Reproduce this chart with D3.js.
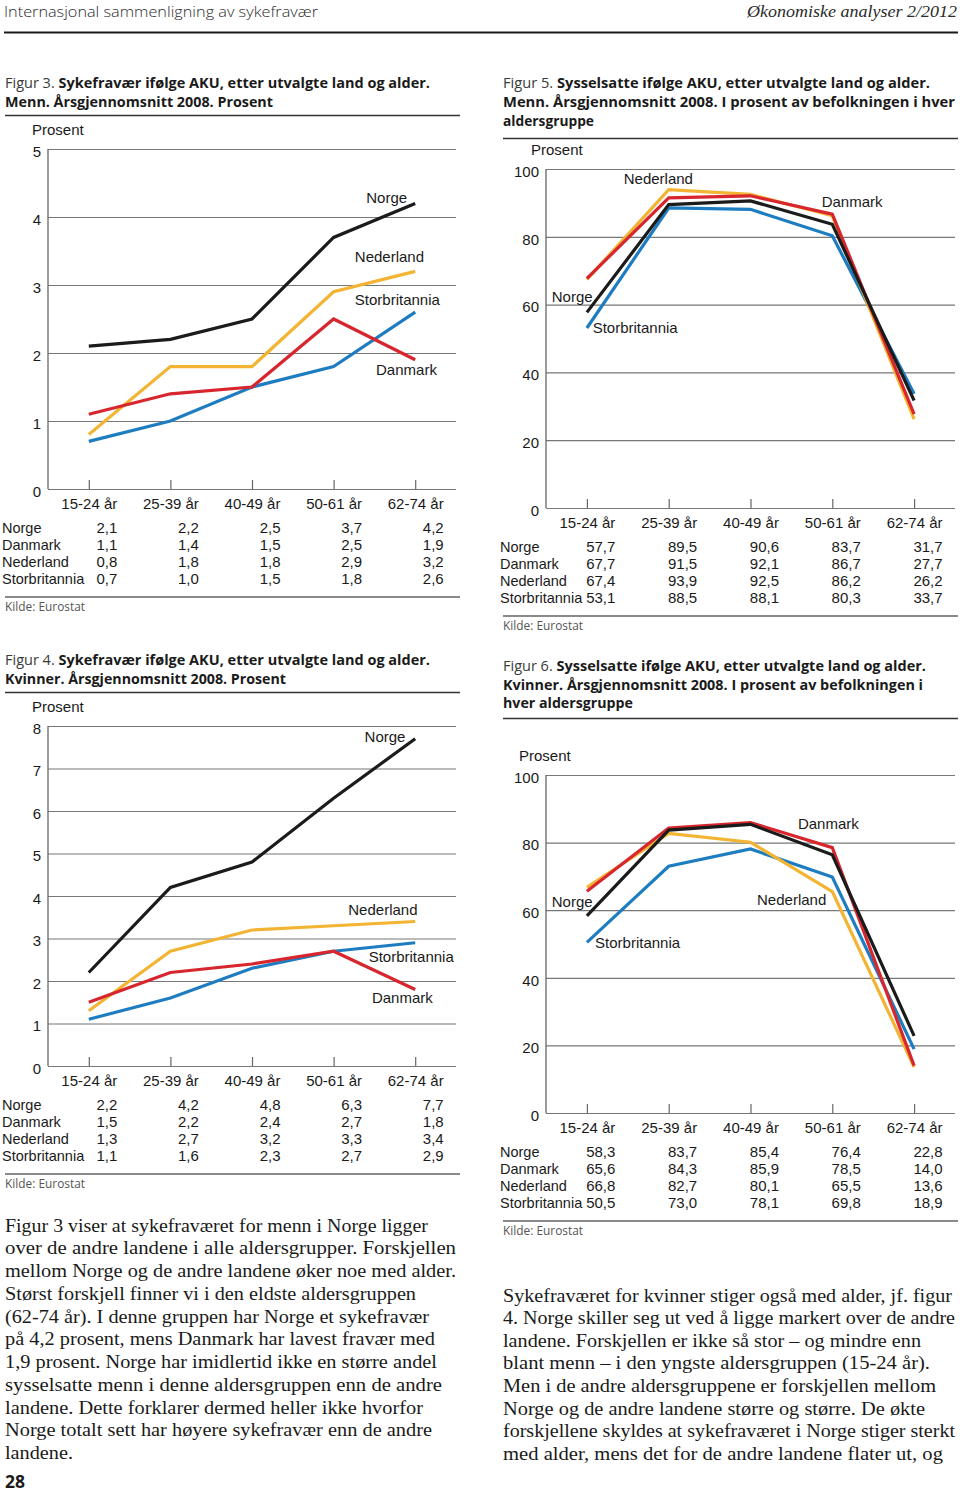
<!DOCTYPE html>
<html><head><meta charset="utf-8">
<script src="https://cdn.jsdelivr.net/npm/d3@7"></script>
<style>
html,body{margin:0;padding:0;background:#fff;}
svg{display:block;}
</style></head><body>
<svg id="page" width="960" height="1493"></svg>
<script>
// ---------- DATA ----------
const ageGroups = ["15-24 år", "25-39 år", "40-49 år", "50-61 år", "62-74 år"];
const countries = ["Norge", "Danmark", "Nederland", "Storbritannia"];

// Figur 3: sykefravær menn (prosent)
const sickMenNorge = [2.1, 2.2, 2.5, 3.7, 4.2];
const sickMenDanmark = [1.1, 1.4, 1.5, 2.5, 1.9];
const sickMenNederland = [0.8, 1.8, 1.8, 2.9, 3.2];
const sickMenStorbritannia = [0.7, 1.0, 1.5, 1.8, 2.6];

// Figur 4: sykefravær kvinner (prosent)
const sickWomenNorge = [2.2, 4.2, 4.8, 6.3, 7.7];
const sickWomenDanmark = [1.5, 2.2, 2.4, 2.7, 1.8];
const sickWomenNederland = [1.3, 2.7, 3.2, 3.3, 3.4];
const sickWomenStorbritannia = [1.1, 1.6, 2.3, 2.7, 2.9];

// Figur 5: sysselsatte menn (prosent av befolkningen)
const empMenNorge = [57.7, 89.5, 90.6, 83.7, 31.7];
const empMenDanmark = [67.7, 91.5, 92.1, 86.7, 27.7];
const empMenNederland = [67.4, 93.9, 92.5, 86.2, 26.2];
const empMenStorbritannia = [53.1, 88.5, 88.1, 80.3, 33.7];

// Figur 6: sysselsatte kvinner (prosent av befolkningen)
const empWomenNorge = [58.3, 83.7, 85.4, 76.4, 22.8];
const empWomenDanmark = [65.6, 84.3, 85.9, 78.5, 14.0];
const empWomenNederland = [66.8, 82.7, 80.1, 65.5, 13.6];
const empWomenStorbritannia = [50.5, 73.0, 78.1, 69.8, 18.9];

// Tick labels
const sickMenTicks = [0, 1, 2, 3, 4, 5];
const sickWomenTicks = [0, 1, 2, 3, 4, 5, 6, 7, 8];
const empTicks = [0, 20, 40, 60, 80, 100];

// ---------- STYLE ----------
const seriesColor = {Norge: "#1b1b1b", Danmark: "#d7262e", Nederland: "#f2b432", Storbritannia: "#1e7dc1"};
const drawOrder = ["Storbritannia", "Nederland", "Danmark", "Norge"];
const SANS = "'Liberation Sans', Arial, Helvetica, sans-serif";
const HUM = "'Open Sans', 'Noto Sans', sans-serif";
const SERIF = "'Liberation Serif', 'Times New Roman', serif";
const fmt = v => d3.format(".1f")(v).replace(".", ",");

const svg = d3.select("#page");

// ---------- PAGE HEADER ----------
svg.append("text").attr("x", 4).attr("y", 16.5)
  .attr("font-family", HUM).attr("font-weight", 300).attr("font-size", 14.5).attr("fill", "#2a2a2a")
  .attr("textLength", 314).attr("lengthAdjust", "spacingAndGlyphs")
  .text("Internasjonal sammenligning av sykefravær");
svg.append("text").attr("x", 957).attr("y", 16.5).attr("text-anchor", "end")
  .attr("font-family", SERIF).attr("font-style", "italic").attr("font-size", 17).attr("fill", "#2a2a2a")
  .attr("textLength", 210).attr("lengthAdjust", "spacingAndGlyphs")
  .text("Økonomiske analyser 2/2012");
svg.append("line").attr("x1", 4).attr("x2", 958).attr("y1", 32.5).attr("y2", 32.5)
  .attr("stroke", "#1a1a1a").attr("stroke-width", 2.2);

// ---------- TITLES ----------
function title(x, lines, ruleY) {
  lines.forEach((ln, i) => {
    const t = svg.append("text").attr("x", x).attr("y", ln.y)
      .attr("font-family", HUM).attr("font-size", 13.8).attr("fill", "#1a1a1a")
      .attr("textLength", ln.w).attr("lengthAdjust", "spacingAndGlyphs");
    if (ln.light) t.append("tspan").attr("font-weight", 400).attr("fill", "#3a3a3a").text(ln.light + " ");
    t.append("tspan").attr("font-weight", 700).text(ln.bold);
  });
  svg.append("line").attr("x1", x).attr("x2", x + 455).attr("y1", ruleY).attr("y2", ruleY)
    .attr("stroke", "#333").attr("stroke-width", 1.5);
}

title(5, [
  {y: 88, w: 425, light: "Figur 3.", bold: "Sykefravær ifølge AKU, etter utvalgte land og alder."},
  {y: 107, w: 268, bold: "Menn. Årsgjennomsnitt 2008. Prosent"}
], 115.5);
title(503, [
  {y: 88, w: 427, light: "Figur 5.", bold: "Sysselsatte ifølge AKU, etter utvalgte land og alder."},
  {y: 107, w: 452, bold: "Menn. Årsgjennomsnitt 2008. I prosent av befolkningen i hver"},
  {y: 126, w: 91, bold: "aldersgruppe"}
], 138.5);
title(5, [
  {y: 665, w: 425, light: "Figur 4.", bold: "Sykefravær ifølge AKU, etter utvalgte land og alder."},
  {y: 684, w: 281, bold: "Kvinner. Årsgjennomsnitt 2008. Prosent"}
], 692.5);
title(503, [
  {y: 671, w: 423, light: "Figur 6.", bold: "Sysselsatte ifølge AKU, etter utvalgte land og alder."},
  {y: 689.5, w: 420, bold: "Kvinner. Årsgjennomsnitt 2008. I prosent av befolkningen i"},
  {y: 708, w: 130, bold: "hver aldersgruppe"}
], 718.5);

// ---------- CHART ----------
function drawChart(o) {
  const g = svg.append("g");
  const x = d3.scalePoint().domain(ageGroups).range([o.left, o.right]).padding(0.5);
  const y = d3.scaleLinear().domain([0, o.max]).range([o.bottom, o.top]);

  // grid + y labels
  const ay = g.append("g").attr("transform", `translate(${o.left},0)`)
    .call(d3.axisLeft(y).tickValues(o.ticks).tickSize(-(o.right - o.left)).tickPadding(7).tickFormat(d => d));
  ay.select(".domain").remove();
  ay.selectAll(".tick line").attr("stroke", "#777").attr("stroke-width", 1.2);
  ay.selectAll(".tick text").attr("font-family", SANS).attr("font-size", 15).attr("fill", "#1a1a1a")
    .attr("y", 2).attr("dy", "0.35em");

  // left axis line
  g.append("line").attr("x1", o.left).attr("x2", o.left).attr("y1", y(o.max)).attr("y2", y(0))
    .attr("stroke", "#666").attr("stroke-width", 1.3);

  // bottom ticks (inward)
  const ax = g.append("g").attr("transform", `translate(0,${o.bottom})`)
    .call(d3.axisBottom(x).tickSize(-9).tickFormat(d => d));
  ax.select(".domain").remove();
  ax.selectAll(".tick line").attr("stroke", "#666").attr("stroke-width", 1.2);
  ax.selectAll(".tick text").attr("font-family", SANS).attr("font-size", 15).attr("fill", "#1a1a1a")
    .attr("y", 14.5).attr("dy", "0.35em");

  // "Prosent"
  g.append("text").attr("x", o.prosentX).attr("y", y(o.max) - 19.5).attr("dy", "0.35em")
    .attr("font-family", SANS).attr("font-size", 15).attr("fill", "#1a1a1a").text("Prosent");

  // series lines
  const line = d3.line().x((d, i) => x(ageGroups[i])).y(d => y(d));
  drawOrder.forEach(c => {
    g.append("path").datum(o.series[c]).attr("d", line)
      .attr("fill", "none").attr("stroke", seriesColor[c]).attr("stroke-width", 3.2)
      .attr("stroke-linejoin", "miter");
  });

  // series labels
  const x0 = x(ageGroups[0]), step = x.step();
  o.labels.forEach(l => {
    g.append("text").attr("x", x0 + l.xi * step).attr("y", y(l.v)).attr("dy", "0.35em")
      .attr("font-family", SANS).attr("font-size", 15).attr("fill", "#1a1a1a").text(l.name);
  });

  // table
  countries.forEach((c, i) => {
    const ty = o.bottom + 38.5 + 17 * i;
    g.append("text").attr("x", o.tableX).attr("y", ty).attr("dy", "0.35em")
      .attr("font-family", SANS).attr("font-size", 14.5).attr("fill", "#1a1a1a").text(c);
    o.series[c].forEach((v, j) => {
      g.append("text").attr("x", x(ageGroups[j]) + 28.5).attr("y", ty).attr("dy", "0.35em")
        .attr("text-anchor", "end").attr("font-family", SANS).attr("font-size", 15).attr("fill", "#1a1a1a")
        .text(fmt(v));
    });
  });

  // rule + source
  g.append("line").attr("x1", o.ruleX).attr("x2", o.ruleX + 455)
    .attr("y1", o.bottom + 108).attr("y2", o.bottom + 108)
    .attr("stroke", "#8a8a8a").attr("stroke-width", 2);
  g.append("text").attr("x", o.ruleX).attr("y", o.bottom + 122)
    .attr("font-family", HUM).attr("font-size", 12).attr("fill", "#555")
    .attr("textLength", 80).attr("lengthAdjust", "spacingAndGlyphs").text("Kilde: Eurostat");
}

drawChart({
  left: 48, right: 456, top: 149, bottom: 489, max: 5, ticks: sickMenTicks,
  series: {Norge: sickMenNorge, Danmark: sickMenDanmark, Nederland: sickMenNederland, Storbritannia: sickMenStorbritannia},
  labels: [
    {name: "Norge", xi: 3.40, v: 4.28},
    {name: "Nederland", xi: 3.26, v: 3.41},
    {name: "Storbritannia", xi: 3.26, v: 2.78},
    {name: "Danmark", xi: 3.52, v: 1.75}
  ],
  prosentX: 32, tableX: 2, ruleX: 5
});

drawChart({
  left: 546, right: 955, top: 169, bottom: 508, max: 100, ticks: empTicks,
  series: {Norge: empMenNorge, Danmark: empMenDanmark, Nederland: empMenNederland, Storbritannia: empMenStorbritannia},
  labels: [
    {name: "Nederland", xi: 0.45, v: 97.1},
    {name: "Danmark", xi: 2.87, v: 90.3},
    {name: "Norge", xi: -0.43, v: 62.2},
    {name: "Storbritannia", xi: 0.07, v: 53.1}
  ],
  prosentX: 531, tableX: 500, ruleX: 503
});

drawChart({
  left: 48, right: 456, top: 726, bottom: 1066, max: 8, ticks: sickWomenTicks,
  series: {Norge: sickWomenNorge, Danmark: sickWomenDanmark, Nederland: sickWomenNederland, Storbritannia: sickWomenStorbritannia},
  labels: [
    {name: "Norge", xi: 3.38, v: 7.74},
    {name: "Nederland", xi: 3.18, v: 3.67},
    {name: "Storbritannia", xi: 3.43, v: 2.56},
    {name: "Danmark", xi: 3.47, v: 1.60}
  ],
  prosentX: 32, tableX: 2, ruleX: 5
});

drawChart({
  left: 546, right: 955, top: 775, bottom: 1113, max: 100, ticks: empTicks,
  series: {Norge: empWomenNorge, Danmark: empWomenDanmark, Nederland: empWomenNederland, Storbritannia: empWomenStorbritannia},
  labels: [
    {name: "Danmark", xi: 2.58, v: 85.5},
    {name: "Nederland", xi: 2.08, v: 63.0},
    {name: "Norge", xi: -0.43, v: 62.4},
    {name: "Storbritannia", xi: 0.10, v: 50.3}
  ],
  prosentX: 519, tableX: 500, ruleX: 503
});

// ---------- BODY TEXT ----------
const leftText = [
  ["Figur 3 viser at sykefraværet for menn i Norge ligger", 423],
  ["over de andre landene i alle aldersgrupper. Forskjellen", 451],
  ["mellom Norge og de andre landene øker noe med alder.", 451],
  ["Størst forskjell finner vi i den eldste aldersgruppen", 411],
  ["(62-74 år). I denne gruppen har Norge et sykefravær", 424],
  ["på 4,2 prosent, mens Danmark har lavest fravær med", 430],
  ["1,9 prosent. Norge har imidlertid ikke en større andel", 432],
  ["sysselsatte menn i denne aldersgruppen enn de andre", 437],
  ["landene. Dette forklarer dermed heller ikke hvorfor", 418],
  ["Norge totalt sett har høyere sykefravær enn de andre", 427],
  ["landene.", 68]
];
const rightText = [
  ["Sykefraværet for kvinner stiger også med alder, jf. figur", 449],
  ["4. Norge skiller seg ut ved å ligge markert over de andre", 452],
  ["landene. Forskjellen er ikke så stor – og mindre enn", 418],
  ["blant menn – i den yngste aldersgruppen (15-24 år).", 427],
  ["Men i de andre aldersgruppene er forskjellen mellom", 433],
  ["Norge og de andre landene større og større. De økte", 422],
  ["forskjellene skyldes at sykefraværet i Norge stiger sterkt", 452],
  ["med alder, mens det for de andre landene flater ut, og", 440]
];
function paragraph(lines, x, y0, lh) {
  lines.forEach((l, i) => {
    svg.append("text").attr("x", x).attr("y", y0 + i * lh)
      .attr("font-family", SERIF).attr("font-size", 19.5).attr("fill", "#1a1a1a")
      .attr("textLength", l[1]).attr("lengthAdjust", "spacingAndGlyphs").text(l[0]);
  });
}
paragraph(leftText, 5, 1231.5, 22.75);
paragraph(rightText, 503, 1301.5, 22.65);

svg.append("text").attr("x", 5).attr("y", 1487.5)
  .attr("font-family", HUM).attr("font-weight", 700).attr("font-size", 17.5).attr("fill", "#1a1a1a").text("28");
</script>
</body></html>
